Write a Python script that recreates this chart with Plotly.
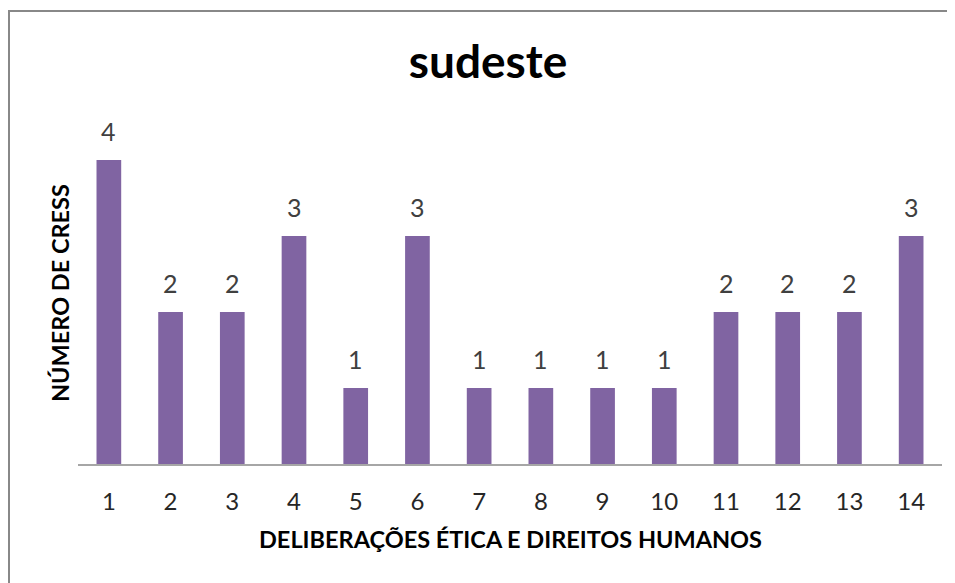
import plotly.graph_objects as go

categories = ["1", "2", "3", "4", "5", "6", "7", "8", "9", "10", "11", "12", "13", "14"]
values = [4, 2, 2, 3, 1, 3, 1, 1, 1, 1, 2, 2, 2, 3]
title_text = "sudeste"
x_title = "DELIBERAÇÕES ÉTICA E DIREITOS HUMANOS"
y_title = "NÚMERO DE CRESS"

# page body has an 8px margin, so the figure is shrunk by 8px
W, H = 947, 575
L, R, T, B = 70, 13, 114, 119
FONT = "Lato"

fig = go.Figure(go.Bar(x=categories, y=values, marker=dict(color="#8064A2", line=dict(width=0))))

pw, ph = W - L - R, H - T - B

annotations = []
for i, v in enumerate(values):
    annotations.append(dict(x=i, y=v, xref="x", yref="y", text=str(v), showarrow=False,
                            yanchor="bottom", yshift=12, font=dict(size=25, color="#404040", family=FONT)))
annotations.append(dict(x=0.5, y=-(531 - (H - B)) / ph, xref="paper", yref="paper", text=f"<b>{x_title}</b>",
                        showarrow=False, yanchor="middle", font=dict(size=23.5, color="#000000", family=FONT)))
annotations.append(dict(x=(52 - L) / pw, y=0.5, xref="paper", yref="paper", text=f"<b>{y_title}</b>",
                        showarrow=False, textangle=-90, xanchor="center",
                        font=dict(size=23.5, color="#000000", family=FONT)))

shapes = [
    dict(type="line", xref="paper", yref="paper", x0=(1 - L) / pw, x1=(W - L) / pw,
         y0=(H - B - 3) / ph, y1=(H - B - 3) / ph, line=dict(color="#888888", width=2)),
    dict(type="line", xref="paper", yref="paper", x0=(1 - L) / pw, x1=(1 - L) / pw,
         y0=(H - B - 2) / ph, y1=(H - B - H) / ph, line=dict(color="#888888", width=2)),
]

fig.update_layout(
    width=W, height=H,
    margin=dict(l=L, r=R, t=T, b=B, autoexpand=False),
    paper_bgcolor="white", plot_bgcolor="white",
    bargap=0.6, showlegend=False,
    title=dict(text=f"<b>{title_text}</b>", x=480 / W, xanchor="center", y=1 - 54 / H, yanchor="middle",
               yref="container", font=dict(size=46, color="#000000", family=FONT)),
    xaxis=dict(type="category", range=[-0.5, len(categories) - 0.5], showline=True, linecolor="#A6A6A6",
               linewidth=1.5, ticks="", showgrid=False,
               tickfont=dict(size=24, color="#262626", family=FONT), ticklabelstandoff=15),
    yaxis=dict(range=[0, 4.5], visible=False, showgrid=False),
    annotations=annotations, shapes=shapes,
)

fig.write_html(
    "out.html",
    config={"displayModeBar": False},
    post_script="document.documentElement.style.overflow='hidden';document.body.style.overflow='hidden';",
)
